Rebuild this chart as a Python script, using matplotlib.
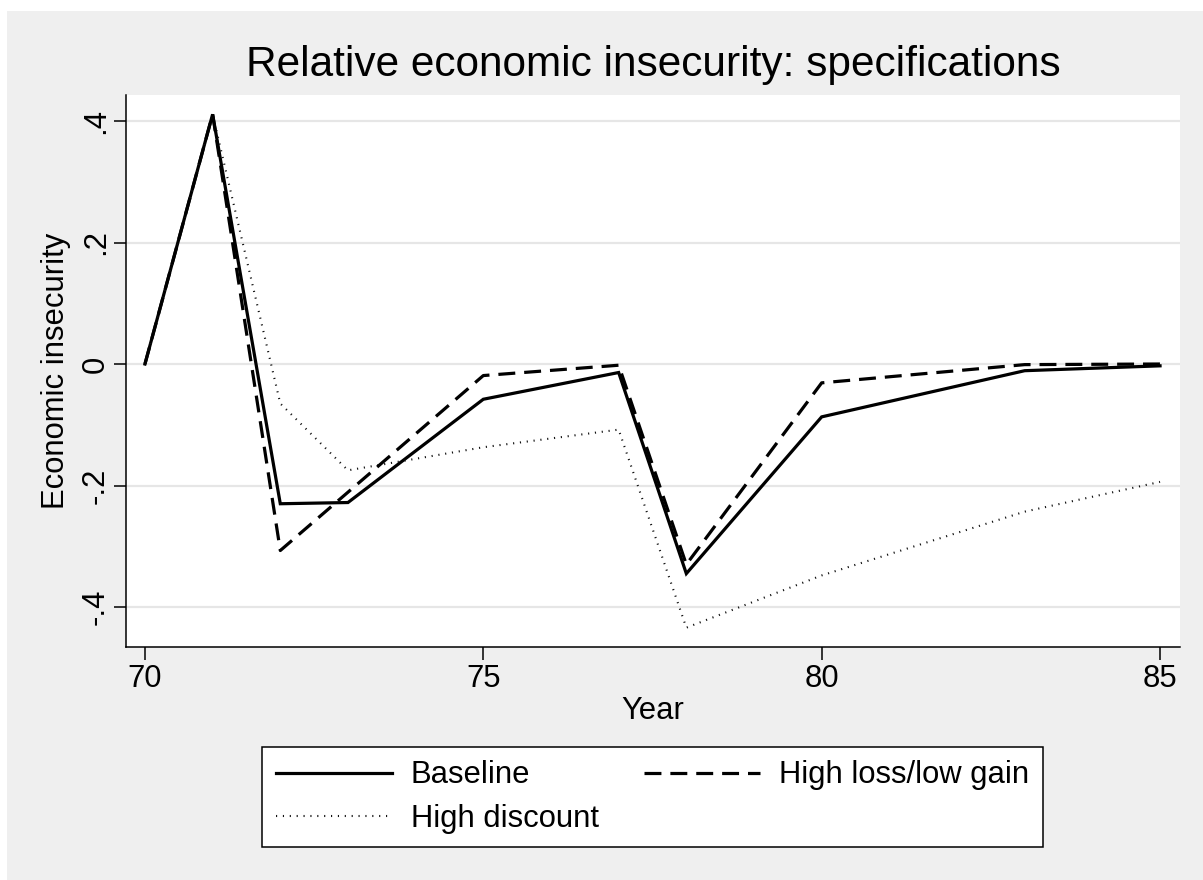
import matplotlib
matplotlib.use("Agg")
import matplotlib.pyplot as plt
from matplotlib.patches import Rectangle

plt.rcParams['font.family'] = ['Liberation Sans', 'DejaVu Sans']

years = [70, 71, 72, 73, 75, 77, 78, 80, 83, 85]
baseline = [0.0, 0.411, -0.230, -0.228, -0.058, -0.014, -0.345, -0.087, -0.011, -0.003]
high_loss = [0.0, 0.411, -0.307, -0.211, -0.019, -0.002, -0.330, -0.031, -0.001, 0.000]
high_discount = [0.0, 0.411, -0.065, -0.175, -0.137, -0.108, -0.434, -0.348, -0.243, -0.194]

xticks = [70, 75, 80, 85]
yticks = [-0.4, -0.2, 0.0, 0.2, 0.4]
ytick_labels = ['-.4', '-.2', '0', '.2', '.4']

title = 'Relative economic insecurity: specifications'
xlabel = 'Year'
ylabel = 'Economic insecurity'

W, H = 1203, 880
fig = plt.figure(figsize=(W / 100, H / 100), dpi=100, facecolor='white')
fig.patches.append(Rectangle((7 / W, 0), 1 - 7 / W, 1 - 11 / H, transform=fig.transFigure,
                             facecolor='#efefef', edgecolor='none', zorder=-10))

ax = fig.add_axes([126 / W, 1 - 647 / H, (1180 - 126) / W, (647 - 95) / H])
ax.set_facecolor('white')

fs = 22.3
ax.plot(years, baseline, color='black', lw=2.3, ls='-', label='Baseline', solid_joinstyle='miter')
ax.plot(years, high_discount, color='#111111', lw=1.5, ls=(0, (0.55, 2.75)), label='High discount')
ax.plot(years, high_loss, color='black', lw=2.3, ls=(0, (5.3, 2.8)), label='High loss/low gain')

ax.set_xlim(69.72, 85.295)
ax.set_ylim(-0.4658, 0.4428)
ax.set_xticks(xticks)
ax.set_xticklabels([str(t) for t in xticks])
ax.set_yticks(yticks)
ax.set_yticklabels(ytick_labels, rotation=90, va='center')
ax.grid(axis='y', color='#e6e6e6', lw=1.6)
ax.set_axisbelow(True)
for s in ['top', 'right']:
    ax.spines[s].set_visible(False)
for s in ['left', 'bottom']:
    ax.spines[s].set_linewidth(1.1)
ax.tick_params(axis='both', direction='out', length=9, width=1.1, labelsize=fs, color='black')
ax.tick_params(axis='y', pad=2)
ax.tick_params(axis='x', pad=3)

ax.set_xlabel(xlabel, fontsize=fs, labelpad=2)
ax.set_ylabel(ylabel, fontsize=fs, labelpad=7)
ax.set_title(title, fontsize=30.5, pad=14)

leg = ax.legend(ncol=2, loc='center', bbox_to_anchor=(652.5 / W, 1 - 797 / H),
                bbox_transform=fig.transFigure, fontsize=fs, frameon=True, fancybox=False,
                edgecolor='black', facecolor='white', framealpha=1, handlelength=3.75,
                handletextpad=0.6, columnspacing=1.45, borderpad=0.45, labelspacing=0.42,
                borderaxespad=0)
leg.get_frame().set_linewidth(1.1)

fig.savefig('out.png', dpi=100, facecolor=fig.get_facecolor())
